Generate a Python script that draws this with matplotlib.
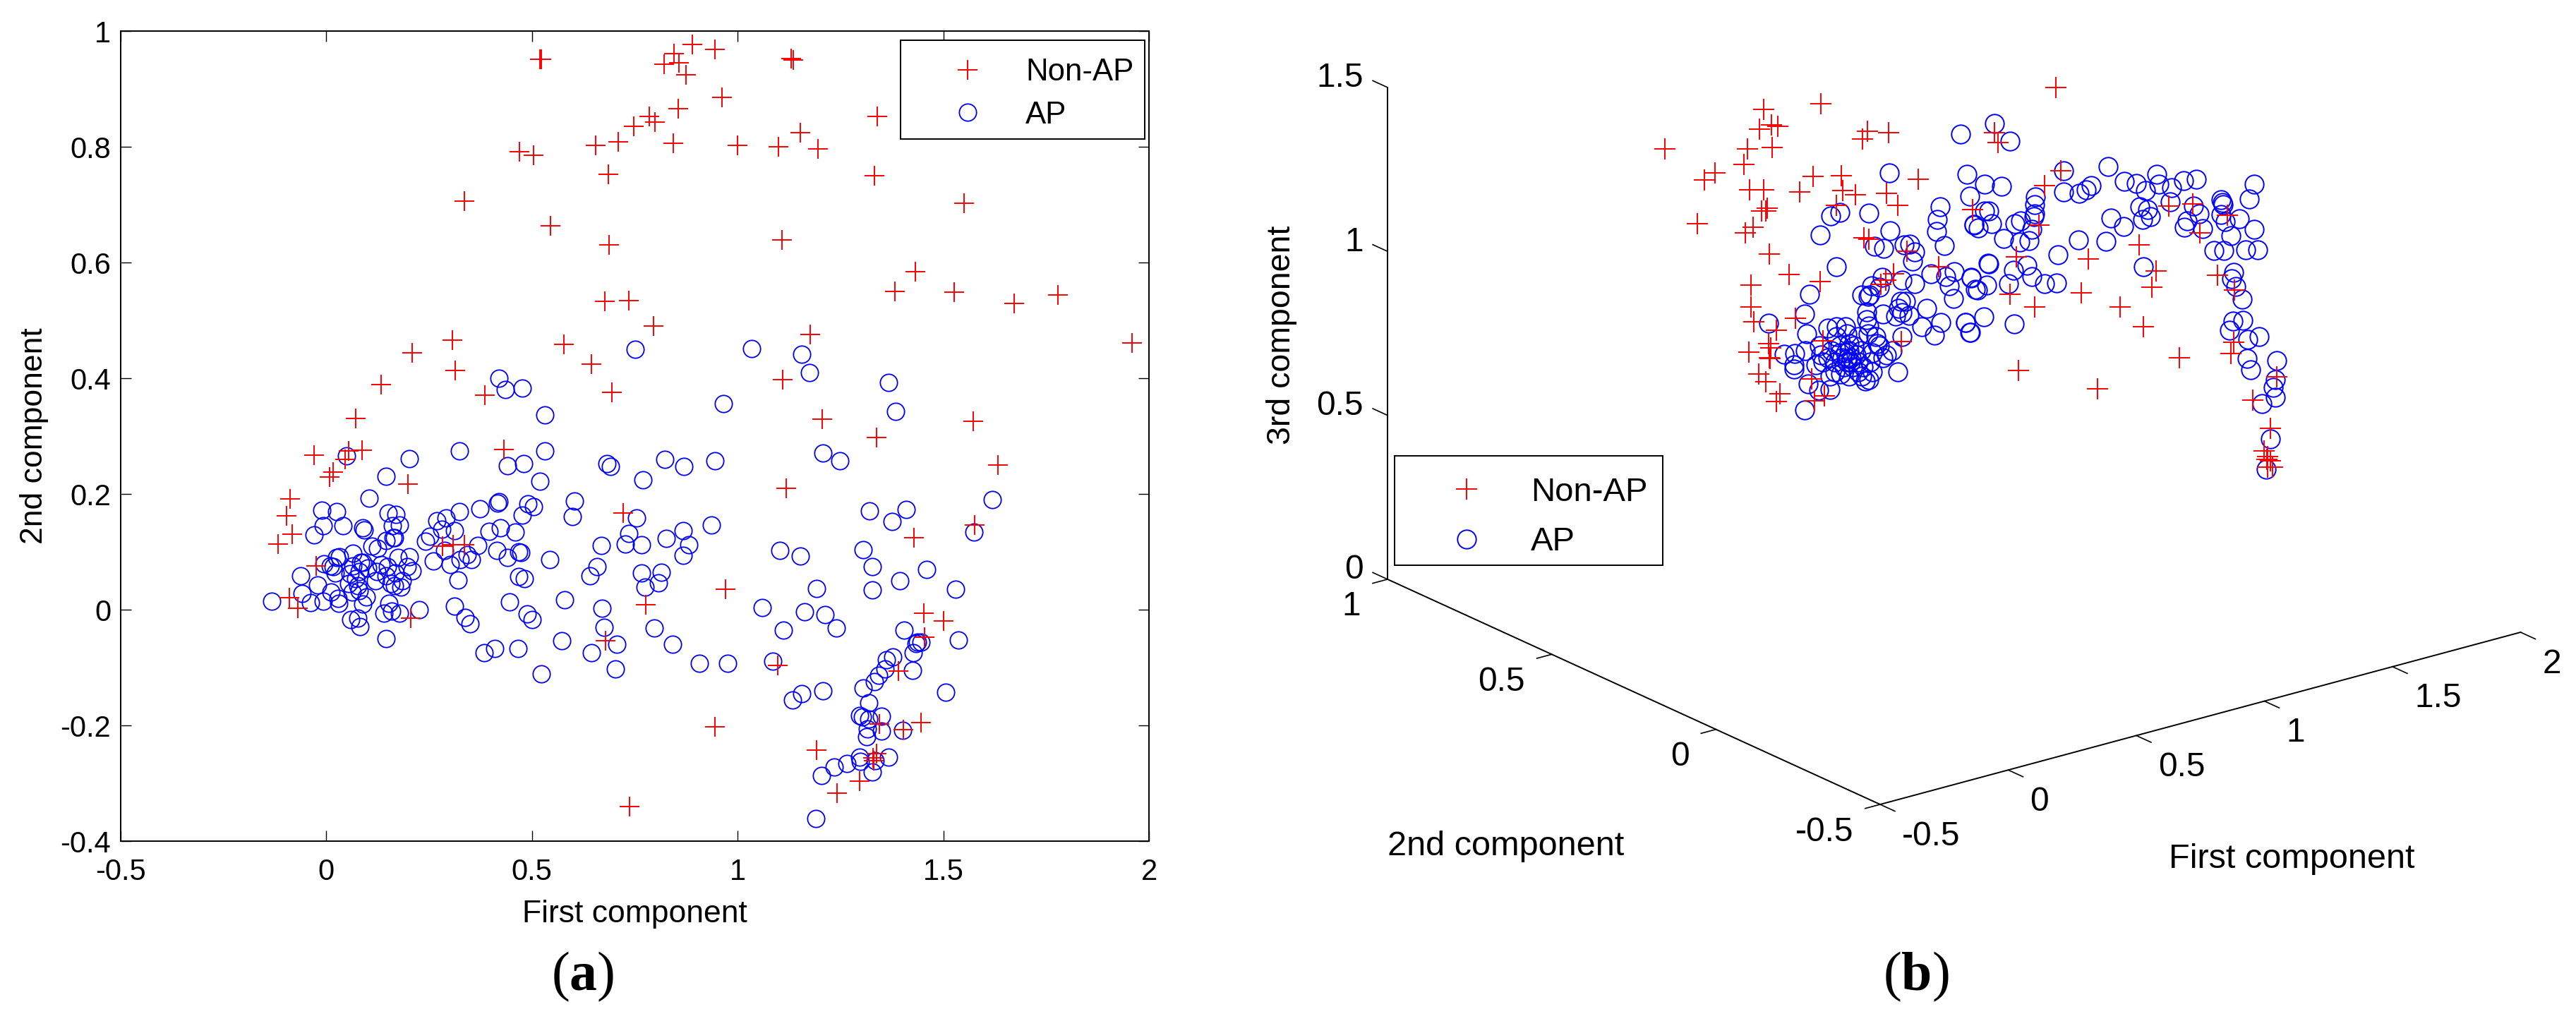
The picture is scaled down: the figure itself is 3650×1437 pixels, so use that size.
import matplotlib
matplotlib.use("Agg")
import matplotlib.pyplot as plt
from matplotlib.patches import Rectangle

plt.rcParams["font.family"] = "Liberation Sans"
plt.rcParams["mathtext.fontset"] = "custom"
plt.rcParams["mathtext.rm"] = "Liberation Serif"
plt.rcParams["mathtext.bf"] = "Liberation Serif:bold"

WIDTH, HEIGHT = 3650, 1437

# panel (a): first and second component
non_ap_first = [
    .519, .523, 1.130, 1.135, .889, .945, .845, .821, .858, .875, .962, .855, 1.340, .785, .799, .747,
    1.152, .843, .709, .655, 1.000, 1.100, 1.196, .469, .503, .685, 1.332, .335, 1.551, .545, .687, 1.108,
    1.432, 1.382, 1.526, .677, .735, 1.673, 1.779, .795, 1.176, 1.959, .577, .645, .306, .208, .313, .134,
    1.110, .695, .385, .072, 1.206, 1.573, 1.338, 1.633, .431, .055, .046, .087, -.029, .017, .008, .198,
    1.118, -.089, -.097, -.083, -.117, .721, 1.577, 1.428, .283, .309, .335, -.025, -.090, -.070, .205,
    .970, .777, 1.452, 1.50, 1.454, .679, 1.391, 1.098, .945, 1.345, 1.403, 1.445, 1.191, 1.338, 1.329,
    1.330, 1.297, 1.241, .737,
]
non_ap_second = [
    .951, .951, .952, .950, .977, .968, .961, .943, .945, .924, .885, .866, .852, .852, .843, .835,
    .825, .806, .808, .803, .803, .800, .796, .792, .785, .752, .750, .706, .702, .663, .631, .639,
    .584, .550, .549, .533, .534, .529, .544, .490, .476, .461, .458, .425, .466, .444, .413, .389,
    .397, .376, .371, .330, .329, .326, .298, .250, .277, .275, .260, .276, .267, .238, .229, .217,
    .210, .191, .162, .130, .113, .167, .146, .124, .110, .112, .112, .076, .021, .002, -.015,
    .035, .008, -.006, -.019, -.047, -.054, -.106, -.096, -.203, -.197, -.207, -.195, -.243, -.249, -.256,
    -.261, -.296, -.317, -.340,
]
ap_first = [
    .049, .201, .145, .104, .324, .532, .441, .480, .519, -.011, .025, -.007, .040, -.029, .089, .092,
    .150, .169, .160, .178, .162, .165, .145, .111, .125, .268, .291, .324, .281, .311, .251, .241,
    .373, .416, .420, .490, .504, .476, .395, .423, .460, .369, .414, .441, .468, .473, .260, .287,
    .301, .325, .343, .352, .321, .544, .467, .481, .445, .488, .500, .311, .338, .349, .226, .384,
    .410, .466, .522, .146, -.132, -.063, -.059, -.022, -.038, -.008, .011, -.006, .009, .025, .032,
    .022, .017, .065, .084, .057, .065, .080, .071, .077, .054, .080, .062, .097, .088, .028, .030,
    .059, .077, .082, .152, .140, .159, .177, .122, .148, .174, .201, .197, .208, .185, .182, .157,
    .165, .120, .100, .088, .134, .145, .168, .419, .435, .477, .531,
    .603, .599, .579, .573, .645, .659, .641, .669, .671, .675, .707, .703, .683, .691, .769, .755,
    .735, .727, .767, .767, .775, .807, .815, .797, .841, .907, .976, .823, .869, .945, .751, 1.034,
    1.156, 1.174, .966, 1.366, 1.384, 1.208, 1.248, 1.619, 1.575, 1.410, 1.320, 1.376, .936, .827,
    .867, .881, .867,
    1.102, 1.153, 1.305, 1.327, 1.327, 1.394, 1.459, 1.530, 1.191, 1.162, 1.213, 1.240, 1.112, 1.060,
    1.405, 1.537, 1.438, 1.445, 1.433, 1.427, 1.425, 1.377, 1.361, 1.359, 1.342, 1.333, 1.305, 1.086,
    1.156, 1.134, 1.208, 1.506, 1.319, 1.296, 1.304, 1.319, 1.349, 1.315, 1.349, 1.313, 1.402, 1.367,
    1.335, 1.296, 1.298, 1.265, 1.234, 1.204, 1.327, 1.190,
]
ap_second = [
    .266, .261, .231, .193, .275, .274, .249, .252, .222, .172, .170, .145, .145, .129, .142, .138,
    .167, .165, .145, .146, .125, .125, .119, .110, .106, .154, .158, .169, .139, .136, .127, .118,
    .175, .184, .186, .183, .178, .163, .135, .141, .134, .111, .102, .090, .100, .099, .084, .102,
    .078, .086, .095, .087, .051, .086, .057, .054, .014, -.007, -.017, .006, -.013, -.024, .000, -.074,
    -.067, -.067, -.111, -.050, .015, .059, .028, .043, .012, .015, .031, .079, .076, .090, .092,
    .063, .074, .097, .082, .062, .076, .066, .054, .041, .045, .033, .031, .022, .010, .019, .011,
    -.017, -.015, -.029, .011, -.006, -.003, -.006, .066, .074, .090, .092, .074, .067, .050, .039, .045,
    .041, .050, .072, .082, .078, .058, .064, .400, .381, .383, .337,
    .188, .161, .017, -.054, -.074, .075, .058, .111, .003, -.031, -.060, -.102, .252, .247, .224, .159,
    .132, .113, .112, .064, .039, .046, .065, -.032, -.060, -.093, -.093, .260, .247, .257, .450, .451,
    .441, .410, .356, .393, .343, .271, .257, .190, .134, .173, .171, .153, .146, .123,
    .137, .112, .094,
    .103, .093, .104, .074, .034, .050, .070, .035, .036, -.004, -.008, -.032, -.035, .004,
    -.035, -.052, -.056, -.056, -.058, -.074, -.105, -.082, -.087, -.103, -.113, -.124, -.135, -.089,
    -.145, -.156, -.140, -.143, -.161, -.183, -.185, -.189, -.184, -.206, -.210, -.220, -.208, -.255,
    -.261, -.255, -.262, -.266, -.272, -.287, -.281, -.361,
]
first_ticks = [-0.5, 0, 0.5, 1, 1.5, 2]
first_tick_labels = ["-0.5", "0", "0.5", "1", "1.5", "2"]
second_ticks = [-0.4, -0.2, 0, 0.2, 0.4, 0.6, 0.8, 1]
second_tick_labels = ["-0.4", "-0.2", "0", "0.2", "0.4", "0.6", "0.8", "1"]

# panel (b): the points as they lie on the picture plane of the 3D view,
# the depth can't be read back from the picture
non_ap_view_x = [
    2359, 2415, 2430, 2476, 2471, 2511, 2493, 2499, 2510, 2519, 2580, 2646, 2639, 2676, 2479, 2499,
    2569, 2609, 2550, 2611, 2629, 2673, 2689, 2718, 2602, 2504, 2496, 2502, 2405, 2484, 2473, 2507,
    2535, 2579, 2641, 2648, 2702, 2747, 2795, 2481, 2481, 2485, 2517, 2544, 2506, 2509, 2478, 2507,
    2508, 2583, 2492, 2502, 2567, 2522, 2517, 2585, 2571, 2694, 2683, 2672, 2665, 2831, 2920, 2897,
    2889, 3073, 3107, 3156, 3117, 3031, 2959, 2857, 3055, 3142, 3049, 3166, 2949, 2848, 2883, 3004,
    3037, 3165, 3161, 3088, 2860, 3226, 2972, 3192, 3217, 3208, 3213, 3212, 3217, 3213, 3220, 2913,
    2826,
]
non_ap_view_y = [
    211, 255, 245, 211, 233, 209, 183, 155, 177, 179, 147, 186, 197, 188, 269, 269,
    250, 249, 272, 270, 276, 274, 291, 254, 291, 295, 299, 299, 317, 322, 330, 360,
    389, 399, 337, 339, 356, 378, 297, 404, 435, 456, 468, 451, 487, 493, 499, 507,
    508, 483, 530, 541, 537, 558, 569, 561, 568, 484, 388, 397, 403, 202, 242, 263,
    319, 292, 289, 305, 330, 347, 367, 364, 384, 390, 407, 411, 415, 417, 435, 435,
    463, 485, 501, 507, 525, 534, 551, 567, 607, 639, 647, 651, 653, 662, 662, 124,
    188,
]
ap_view_x = [
    2778, 2677, 2787, 2749, 2791, 2745, 2744, 2755, 2607, 2594, 2648, 2579, 2678, 2656, 2669, 2698,
    2706, 2713, 2710, 2602, 2797, 2667, 2652, 2663, 2695, 2713, 2736, 2757, 2769, 2762, 2768, 2793,
    2799, 2638, 2647, 2649, 2693, 2700, 2690, 2695, 2686, 2668, 2645, 2645, 2648, 2730, 2705, 2723,
    2750, 2785, 2791, 2741, 2695, 2564, 2557, 2506, 2560, 2590, 2602, 2615, 2528, 2543, 2558, 2542,
    2542, 2578, 2562, 2577, 2593, 2557, 2689, 2681, 2668, 2658, 2663, 2648, 2643, 2653, 2620, 2608,
    2593, 2583, 2573, 2580, 2602, 2617, 2633, 2647, 2660, 2607, 2620, 2637, 2653, 2600, 2617, 2633,
    2650, 2607, 2627, 2610, 2623, 2630, 2615, 2618, 2622, 2625, 2613, 2600, 2633, 2640, 2590, 2595,
    2638, 2673, 2620, 2987, 2848, 2924, 2812, 2836, 2884, 2883, 2883, 2882, 2924, 2946, 2956, 2963,
    3010, 3027, 3056, 3040, 3059, 3077, 3094, 3112, 3194, 3187, 3147, 3149, 3150, 3147, 3153, 3173,
    3075, 3108, 3116, 3099, 3095, 3121, 3194, 3161, 3137, 3151, 3182, 3199, 3032, 3043, 3047, 3036,
    2991, 3009, 2984, 2945, 2916, 3037, 3165, 3162, 3168, 3177, 3164, 3178, 3159, 3185, 3201, 3184,
    3189, 3226, 3224, 3221, 3224, 3205, 3217, 3211, 2812, 2818, 2822, 2797, 2803, 2839, 2855, 2863,
    2862, 2875, 2879, 2872, 2853, 2879, 2897, 2914, 2846, 2817, 2818, 2793, 2815, 2802, 2811, 2785,
    2792, 2854, 2826,
]
ap_view_y = [
    190, 245, 247, 293, 278, 311, 328, 348, 301, 306, 302, 333, 327, 349, 352, 347,
    346, 357, 370, 378, 318, 393, 405, 407, 397, 402, 388, 392, 385, 405, 423, 393,
    410, 418, 420, 418, 427, 427, 437, 443, 448, 445, 442, 453, 462, 437, 447, 463,
    457, 457, 471, 475, 477, 417, 445, 458, 473, 465, 463, 463, 502, 501, 497, 517,
    523, 490, 544, 553, 552, 581, 527, 497, 507, 477, 490, 538, 540, 527, 533, 530,
    533, 513, 517, 503, 477, 473, 477, 473, 487, 500, 497, 497, 500, 513, 513, 513,
    513, 490, 490, 507, 507, 503, 500, 508, 513, 520, 520, 527, 527, 520, 507, 497,
    533, 503, 487, 236, 200, 242, 261, 264, 279, 290, 303, 307, 272, 274, 269, 263,
    257, 260, 247, 270, 261, 266, 256, 254, 261, 282, 283, 287, 290, 304, 314, 310,
    286, 292, 303, 313, 322, 324, 325, 334, 355, 355, 354, 354, 293, 297, 307, 311,
    309, 321, 342, 340, 361, 378, 386, 395, 406, 424, 455, 454, 468, 481, 477, 508,
    524, 511, 538, 549, 563, 572, 622, 665, 299, 299, 317, 319, 323, 338, 317, 313,
    343, 341, 325, 376, 383, 392, 402, 401, 402, 373, 374, 394, 404, 411, 449, 457,
    471, 459, 175,
]
view_first_ticks = [-0.5, 0, 0.5, 1, 1.5, 2]
view_second_ticks = [-0.5, 0, 0.5, 1]
view_third_ticks = [0, 0.5, 1, 1.5]


def project(first, second, third):
    # axis directions of the 3D box as they show up in the picture
    x = 2664 + (first + 0.5) * 363.0 - (second + 0.5) * 465.3
    y = 1140 - (first + 0.5) * 97.6 - (second + 0.5) * 212.7 - third * 464.7
    return x, y


def fmt(value):
    return f"{value:g}"


fig = plt.figure(figsize=(WIDTH / 100, HEIGHT / 100), dpi=100)

# panel (a)
ax = fig.add_axes([171 / WIDTH, 1 - 1192 / HEIGHT, 1457 / WIDTH, 1148 / HEIGHT])
ax.plot(ap_first, ap_second, "o", mfc="none", mec="#0000ff", ms=17.5, mew=1.3, label="AP", zorder=2)
ax.plot(non_ap_first, non_ap_second, "+", color="#ff0000", ms=19.5, mew=1.4, label="Non-AP", zorder=3)
ax.set_xlim(-0.5, 2)
ax.set_ylim(-0.4, 1)
ax.set_xticks(first_ticks, first_tick_labels)
ax.set_yticks(second_ticks, second_tick_labels)
ax.tick_params(direction="in", length=10.8, width=1.0, top=True, right=True, labelsize=30)
ax.tick_params(axis="x", pad=17)
ax.tick_params(axis="y", pad=10)
for spine in ax.spines.values():
    spine.set_linewidth(1.4)
ax.set_xlabel("First component", fontsize=32, labelpad=14)
ax.set_ylabel("2nd component", fontsize=32, labelpad=12)
ax.add_patch(Rectangle(
    (1276 / WIDTH, 1 - 197 / HEIGHT), 346 / WIDTH, 140 / HEIGHT, transform=fig.transFigure,
    fc="white", ec="black", lw=1.4, clip_on=False, zorder=4,
))
handles, labels = ax.get_legend_handles_labels()
ax.legend(
    handles[::-1], labels[::-1], loc="upper left", bbox_to_anchor=(1276 / WIDTH, 1 - 65 / HEIGHT),
    bbox_transform=fig.transFigure, borderaxespad=0, fontsize=31.5, frameon=False,
    numpoints=1, borderpad=0.4, handlelength=3.55, handletextpad=0.1, labelspacing=0.44,
)

# panel (b)
ax3 = fig.add_axes([1700 / WIDTH, 0, 1950 / WIDTH, 1])
ax3.set_xlim(1700, 3650)
ax3.set_ylim(HEIGHT, 0)
ax3.axis("off")

ax3.plot(ap_view_x, ap_view_y, "o", mfc="none", mec="#0000ff", ms=19, mew=1.4, label="AP", zorder=2)
ax3.plot(non_ap_view_x, non_ap_view_y, "+", color="#ff0000", ms=21, mew=1.4, label="Non-AP", zorder=3)

line_style = dict(color="black", lw=1.4, zorder=1)
tick_style = dict(color="black", lw=1.2, zorder=1)
label_size = 34.5

for start, end in [
    ((-0.5, -0.5, 0), (2, -0.5, 0)),
    ((-0.5, -0.5, 0), (-0.5, 1, 0)),
    ((-0.5, 1, 0), (-0.5, 1, 1.5)),
]:
    x0, y0 = project(*start)
    x1, y1 = project(*end)
    ax3.plot([x0, x1], [y0, y1], **line_style)

for value in view_first_ticks:
    x0, y0 = project(value, -0.5, 0)
    x1, y1 = project(value, -0.545, 0)
    ax3.plot([x0, x1], [y0, y1], **tick_style)
    ax3.text(x0 + 31, y0 + 45, fmt(value), fontsize=label_size, ha="left", va="center")

for value in view_second_ticks:
    x0, y0 = project(-0.5, value, 0)
    x1, y1 = project(-0.558, value, 0)
    ax3.plot([x0, x1], [y0, y1], **tick_style)
    ax3.text(x0 - 38, y0 + 39, fmt(value), fontsize=label_size, ha="right", va="center")

for value in view_third_ticks:
    x0, y0 = project(-0.5, 1, value)
    x1, y1 = project(-0.5, 1.045, value)
    ax3.plot([x0, x1], [y0, y1], **tick_style)
    ax3.text(x0 - 34, y0 - 13, fmt(value), fontsize=label_size, ha="right", va="center")

ax3.text(3247, 1218, "First component", fontsize=35, ha="center", va="center")
ax3.text(2134, 1199, "2nd component", fontsize=35, ha="center", va="center")
ax3.text(1816, 475, "3rd component", fontsize=33.5, rotation=90, ha="center", va="center")

ax3.add_patch(Rectangle((1976, 646), 380, 155, fc="white", ec="black", lw=1.4, zorder=4))
handles, labels = ax3.get_legend_handles_labels()
ax3.legend(
    handles[::-1], labels[::-1], loc="upper left", bbox_to_anchor=(1976, 659), bbox_transform=ax3.transData,
    borderaxespad=0, fontsize=34, frameon=False, numpoints=1,
    borderpad=0.35, handlelength=3.63, handletextpad=0.1, labelspacing=0.57,
)

# sub-figure captions
fig.text(826 / WIDTH, 1 - 1384 / HEIGHT, r"($\mathbf{a}$)", fontsize=56, family="Liberation Serif", ha="center", va="center")
fig.text(2715 / WIDTH, 1 - 1384 / HEIGHT, r"($\mathbf{b}$)", fontsize=56, family="Liberation Serif", ha="center", va="center")

fig.savefig("out.png", dpi=100)
